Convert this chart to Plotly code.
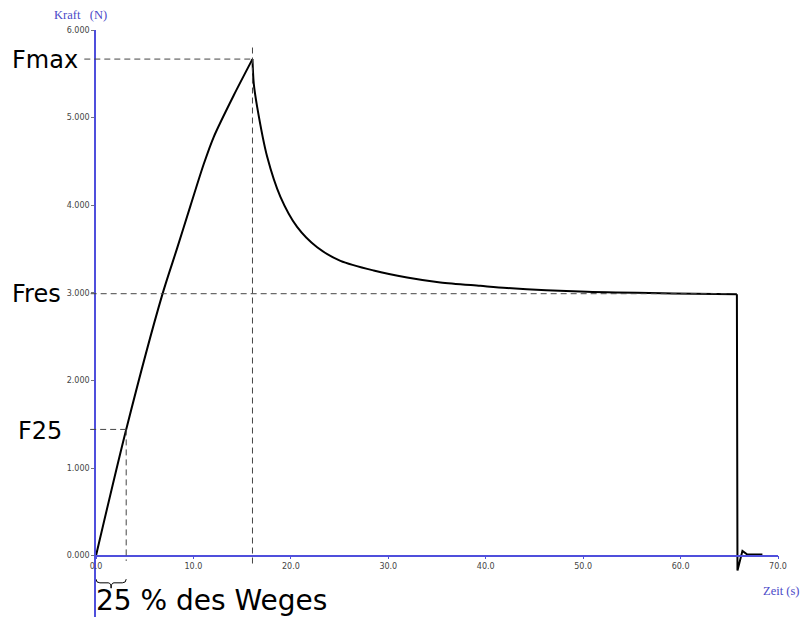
import plotly.graph_objects as go

# Force-time curve of a relaxation test (time in s, force in N), in three segments
rise_time_s = [0.0, 3.10, 6.79, 8.33, 9.70, 11.06, 12.09, 14.14, 16.06]
rise_force_n = [0, 1441, 2974, 3510, 3995, 4470, 4781, 5255, 5668]

relax_time_s = [16.06, 16.19, 16.54, 17.57, 18.93, 20.64, 22.70, 25.09, 28.50,
                31.93, 35.35, 39.45, 42.19, 50.40, 59.25, 65.78]
relax_force_n = [5668, 5390, 5123, 4553, 4096, 3753, 3520, 3365, 3255,
                 3176, 3119, 3080, 3055, 3011, 2993, 2985]

unload_time_s = [65.78, 65.84, 66.35, 66.85, 68.40]
unload_force_n = [2985, -170, 55, 14, 14]

# Characteristic values
T_FMAX, FMAX = 16.06, 5668
T_F25, F25 = 3.10, 1441
T_END, FRES = 65.78, 2990

y_ticks = [0, 1000, 2000, 3000, 4000, 5000, 6000]
y_tick_text = ["0.000", "1.000", "2.000", "3.000", "4.000", "5.000", "6.000"]
x_ticks = [0, 10, 20, 30, 40, 50, 60, 70]
x_tick_text = ["0.0", "10.0", "20.0", "30.0", "40.0", "50.0", "60.0", "70.0"]

X_RANGE = [0, 70]
Y_RANGE = [-700, 6000]

W, H = 804, 621
ML, MR, MT, MB = 96, 26, 30, 4
PW, PH = W - ML - MR, H - MT - MB

AXIS_BLUE = "#4f4fdc"
DASH_COL = "#444444"


def px_x(px):
    return (px - ML) / PW


def px_y(py):
    return (H - MB - py) / PH


def x_paper(x):
    return (x - X_RANGE[0]) / (X_RANGE[1] - X_RANGE[0])


fig = go.Figure()
for xs, ys, shape in [(rise_time_s, rise_force_n, "spline"),
                      (relax_time_s, relax_force_n, "spline"),
                      (unload_time_s, unload_force_n, "linear")]:
    fig.add_trace(go.Scatter(x=xs, y=ys, mode="lines",
                             line=dict(color="black", width=2, shape=shape, smoothing=0.8),
                             hoverinfo="skip", showlegend=False))

dash_line = dict(color=DASH_COL, width=1, dash="6px,4px")
shapes = [
    # Fmax guides
    dict(type="line", xref="paper", yref="y", x0=x_paper(-1.2), x1=x_paper(T_FMAX + 0.1),
         y0=FMAX, y1=FMAX, line=dash_line),
    dict(type="line", xref="x", yref="y", x0=T_FMAX, x1=T_FMAX,
         y0=5800, y1=-90, line=dash_line),
    # Fres guide
    dict(type="line", xref="paper", yref="y", x0=x_paper(-0.55), x1=x_paper(T_END - 1.0),
         y0=FRES, y1=FRES, line=dash_line),
    # F25 guides
    dict(type="line", xref="paper", yref="y", x0=x_paper(-0.6), x1=x_paper(T_F25),
         y0=F25, y1=F25, line=dash_line),
    dict(type="line", xref="x", yref="y", x0=T_F25, x1=T_F25,
         y0=F25, y1=-60, line=dash_line),
    # brace under the first quarter of the path
    dict(type="path", xref="x", yref="y",
         path=(f"M 0,-268 Q 0,-310 0.4,-310 L {T_F25/2 - 0.3},-310 "
               f"Q {T_F25/2},-310 {T_F25/2},-371 "
               f"Q {T_F25/2},-310 {T_F25/2 + 0.3},-310 L {T_F25 - 0.4},-310 "
               f"Q {T_F25},-310 {T_F25},-268"),
         line=dict(color="black", width=1)),
]

label_font = dict(family="DejaVu Sans", size=24, color="black")
title_font = dict(family="Liberation Serif", size=12.5, color="#4a4ac8")
annotations = [
    dict(text="Fmax", x=px_x(11), y=px_y(60), font=label_font),
    dict(text="Fres", x=px_x(11), y=px_y(294), font=label_font),
    dict(text="F25", x=px_x(17), y=px_y(431), font=label_font),
    dict(text="25 % des Weges", x=px_x(95), y=px_y(600),
         font=dict(family="DejaVu Sans", size=28, color="black")),
    dict(text="Kraft&nbsp;&nbsp;&nbsp;(N)", x=px_x(53), y=px_y(15), font=title_font),
    dict(text="Zeit (s)", x=px_x(762), y=px_y(591), font=title_font),
]
for a in annotations:
    a.update(xref="paper", yref="paper", xanchor="left", yanchor="middle",
             showarrow=False, borderpad=0)

tick_font = dict(family="DejaVu Sans", size=8, color="#444444")
fig.update_layout(
    width=W, height=H,
    margin=dict(l=ML, r=MR, t=MT, b=MB, pad=0),
    paper_bgcolor="white", plot_bgcolor="white",
    shapes=shapes, annotations=annotations,
    xaxis=dict(range=X_RANGE, anchor="free",
               position=(0 - Y_RANGE[0]) / (Y_RANGE[1] - Y_RANGE[0]),
               showgrid=False, zeroline=False,
               showline=True, linecolor=AXIS_BLUE, linewidth=1.5,
               ticks="outside", ticklen=3, tickcolor=AXIS_BLUE,
               tickvals=x_ticks, ticktext=x_tick_text, tickfont=tick_font),
    yaxis=dict(range=Y_RANGE, showgrid=False, zeroline=False,
               showline=True, linecolor=AXIS_BLUE, linewidth=1.5,
               ticks="outside", ticklen=3, tickcolor="#777777",
               tickvals=y_ticks, ticktext=y_tick_text, tickfont=tick_font),
)

fig.write_html("out.html")
